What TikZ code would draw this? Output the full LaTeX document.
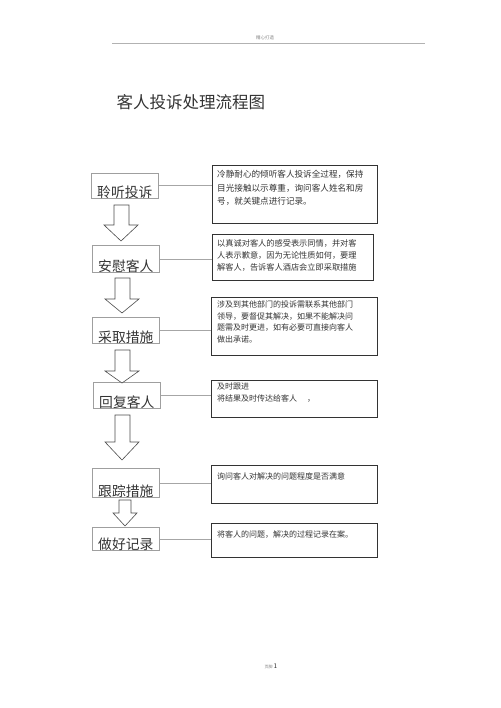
\documentclass[tikz,border=0pt]{standalone}
\usepackage{fontspec}
\setmainfont{Liberation Serif}
\newfontfamily\cjk{Noto Sans CJK SC}
\usetikzlibrary{calc}

\begin{document}
\begin{tikzpicture}[x=1pt, y=-1pt,
    lbox/.style={draw=gray!75, line width=0.6pt, minimum width=67pt, inner xsep=0pt, inner ysep=1pt,
        text depth=0pt, anchor=north west, text=black!80, font=\cjk\fontsize{13.8}{13.8}\selectfont},
    rbox/.style={draw=black!80, line width=1.1pt, anchor=north west, inner sep=0pt},
    rtext/.style={anchor=north west, inner sep=0pt, align=left, text=black!80},
    link/.style={draw=gray!70, line width=0.6pt},
    blockarrow/.style={draw=black!70, line width=0.6pt, fill=white, line join=miter}]
    \useasboundingbox (0,0) rectangle (500,708);

    % Header and title
    \node[text=gray, font=\cjk\fontsize{4.5}{4.5}\selectfont] (hdr) at (265,38) {精心打造};
    \draw[gray!60, line width=0.8pt] (112,43) -- (425,43); % header rule
    \node[anchor=west, text=black!80, font=\cjk\fontsize{16.5}{16.5}\selectfont] (title) at (113,102) {客人投诉处理流程图};

    % Steps (left column)
    \node[lbox, text height=23pt] (listen) at (91,173) {聆听投诉};
    \node[lbox, text height=25pt] (soothe) at (92,245) {安慰客人};
    \node[lbox, text height=24pt] (act) at (92,317) {采取措施};
    \node[lbox, text height=24pt] (reply) at (93,382) {回复客人};
    \node[lbox, text height=27pt] (follow) at (92,468) {跟踪措施};
    \node[lbox, text height=21pt] (record) at (92,527) {做好记录};

    % Notes (right column)
    \node[rbox, minimum width=165pt, minimum height=58pt] (listenR) at (212,165) {};
    \node[rbox, minimum width=161pt, minimum height=46pt] (sootheR) at (212,234) {};
    \node[rbox, minimum width=166pt, minimum height=58pt] (actR) at (211,297) {};
    \node[rbox, minimum width=166pt, minimum height=37pt] (replyR) at (211,380) {};
    \node[rbox, minimum width=166pt, minimum height=38pt] (followR) at (211,465) {};
    \node[rbox, minimum width=166pt, minimum height=34pt] (recordR) at (211,523) {};

    \node[rtext, font=\cjk\fontsize{8.6}{13.5}\selectfont] (listenT) at ($(listenR.north west)+(5,5)$)
        {冷静耐心的倾听客人投诉全过程，保持\\目光接触以示尊重，询问客人姓名和房\\号，就关键点进行记录。};
    \node[rtext, font=\cjk\fontsize{8.2}{12}\selectfont] (sootheT) at ($(sootheR.north west)+(5,5)$)
        {以真诚对客人的感受表示同情，并对客\\人表示歉意，因为无论性质如何，要理\\解客人，告诉客人酒店会立即采取措施};
    \node[rtext, font=\cjk\fontsize{8}{11.5}\selectfont] (actT) at ($(actR.north west)+(6,4)$)
        {涉及到其他部门的投诉需联系其他部门\\领导，要督促其解决，如果不能解决问\\题需及时更进，如有必要可直接向客人\\做出承诺。};
    \node[rtext, font=\cjk\fontsize{8}{11.5}\selectfont] (replyT) at ($(replyR.north west)+(6,3)$)
        {及时跟进\\将结果及时传达给客人\hspace{10pt}，};
    \node[rtext, font=\cjk\fontsize{8}{11.5}\selectfont] (followT) at ($(followR.north west)+(6,8)$)
        {询问客人对解决的问题程度是否满意};
    \node[rtext, font=\cjk\fontsize{8}{11.5}\selectfont] (recordT) at ($(recordR.north west)+(6,8)$)
        {将客人的问题，解决的过程记录在案。};

    % Links between steps and notes
    \draw[link] (listen.east) -- (listen.east -| listenR.west);
    \draw[link] (soothe.east) -- (soothe.east -| sootheR.west);
    \draw[link] (act.east) -- (act.east -| actR.west);
    \draw[link] (reply.east) -- (reply.east -| replyR.west);
    \draw[link] (follow.east) -- (follow.east -| followR.west);
    \draw[link] (record.east) -- (record.east -| recordR.west);

    % Block arrows
    \draw[blockarrow] (114,205) -- (129,205) -- (129,225) -- (138,225) -- (121,241) -- (104,225) -- (114,225) -- cycle;
    \draw[blockarrow] (115,278) -- (130,278) -- (130,299) -- (139,299) -- (122,313) -- (105,299) -- (115,299) -- cycle;
    \draw[blockarrow] (115,350) -- (130,350) -- (130,371) -- (139,371) -- (122,383) -- (105,371) -- (115,371) -- cycle;
    \draw[blockarrow] (115,415) -- (130,415) -- (130,442) -- (139,442) -- (122,460) -- (105,442) -- (115,442) -- cycle;
    \draw[blockarrow] (119,500) -- (131,500) -- (131,513) -- (137,513) -- (125,526) -- (113,513) -- (119,513) -- cycle;

    % Footer
    \node[text=gray, font=\cjk\fontsize{4}{4}\selectfont] (pgno) at (271,666) {页脚~{\sffamily\fontsize{7}{7}\selectfont\color{black!80}1}};
\end{tikzpicture}
\end{document}
